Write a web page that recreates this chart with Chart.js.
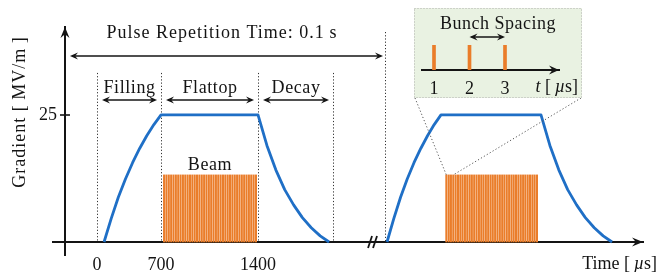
<!DOCTYPE html>
<html>
<head>
<meta charset="utf-8">
<script src="https://cdn.jsdelivr.net/npm/chart.js@4"></script>
<style>
  body { margin: 0; background: #fff; }
  #wrap { position: relative; width: 659px; height: 272px; }
  #main { position: absolute; left: 0; top: 0; }
  #inset { position: absolute; left: 414px; top: 8px; }
</style>
</head>
<body>
<div id="wrap">
  <canvas id="main" width="659" height="272"></canvas>
  <canvas id="inset" width="168" height="90"></canvas>
</div>
<script>
// time in µs, gradient in MV/m (the time axis is schematic, with a break)
const xTickValues = [0, 700, 1400];
const xTickLabels = ['0', '700', '1400'];
const yTickValues = [25];
const yTickLabels = ['25'];
const phaseBounds = [0, 700, 1400, 2100];
const phaseNames = ['Filling', 'Flattop', 'Decay'];
const repLineTime = 100055;
const yAxisTime = -364;
const breakTime = 2473;

const pulse1Time = [77, 155, 233, 311, 389, 466, 544, 622, 700, 1400, 1483, 1566, 1649, 1732, 1814, 1897, 1980, 2063];
const pulse1Gradient = [0, 4.6, 8.8, 12.4, 15.6, 18.4, 20.9, 23.1, 25, 25, 19.0, 14.2, 10.3, 7.3, 4.8, 2.8, 1.2, 0];
const pulse2Time = [100077, 100151, 100225, 100298, 100372, 100446, 100520, 100593, 100667, 101400, 101483, 101566, 101649, 101732, 101814, 101897, 101980, 102063];
const pulse2Gradient = [0, 4.6, 8.8, 12.4, 15.6, 18.4, 20.9, 23.1, 25, 25, 19.0, 14.2, 10.3, 7.3, 4.8, 2.8, 1.2, 0];

const beam1Time = [722, 739, 756, 773, 790, 807, 824, 841, 858, 875, 892, 909, 926, 943, 960, 977, 994, 1011, 1028, 1045,
  1062, 1079, 1096, 1113, 1130, 1147, 1164, 1181, 1198, 1215, 1232, 1249, 1266, 1283, 1300, 1317, 1334, 1351, 1368, 1385];
const beam2Time = [100717, 100734, 100750, 100767, 100784, 100801, 100818, 100834, 100851, 100868, 100885, 100901, 100918, 100935, 100952, 100969, 100985, 101002, 101019, 101036,
  101052, 101069, 101086, 101103, 101120, 101136, 101153, 101170, 101187, 101203, 101220, 101237, 101254, 101271, 101287, 101304, 101321, 101338, 101354, 101371];
const beamLevel = 13.2;

// inset: three bunches, 1 µs apart
const insetBunchTime = [1, 2, 3];
const insetTickValues = [1, 2, 3];

// piecewise time -> fraction of plot width, so the drawing stays schematic
const xKnots = [[-500, 0], [0, 0.0746], [700, 0.1831], [1400, 0.3475], [2100, 0.4746], [2473, 0.5424],
  [99920, 0.5424], [100000, 0.5542], [100700, 0.6627], [101400, 0.8271], [102100, 0.9542], [102352, 1]];

function timeToDecimal(v) {
  const k = xKnots;
  if (v <= k[0][0]) return k[0][1] + (v - k[0][0]) * (k[1][1] - k[0][1]) / (k[1][0] - k[0][0]);
  for (let i = 1; i < k.length; i++) {
    if (v <= k[i][0]) {
      const [t0, d0] = k[i - 1], [t1, d1] = k[i];
      return d0 + (v - t0) / (t1 - t0) * (d1 - d0);
    }
  }
  const n = k.length - 1;
  return k[n][1] + (v - k[n][0]) * (k[n][1] - k[n - 1][1]) / (k[n][0] - k[n - 1][0]);
}
function decimalToTime(d) {
  const k = xKnots;
  for (let i = 1; i < k.length; i++) {
    if (d <= k[i][1] && k[i][1] > k[i - 1][1]) {
      const [t0, d0] = k[i - 1], [t1, d1] = k[i];
      return t0 + (d - d0) / (d1 - d0) * (t1 - t0);
    }
  }
  return k[k.length - 1][0];
}

class SchematicScale extends Chart.LinearScale {
  getPixelForValue(value) {
    if (value === null || isNaN(value)) return NaN;
    return this.getPixelForDecimal(timeToDecimal(value));
  }
  getValueForPixel(pixel) {
    return decimalToTime(this.getDecimalForPixel(pixel));
  }
}
SchematicScale.id = 'schematic';
SchematicScale.defaults = Chart.LinearScale.defaults;
Chart.register(SchematicScale);

const FONT = "'Liberation Serif', 'Times New Roman', serif";
const BLUE = '#1f6fc6';
const ORANGE = '#ea7d2a';
const INK = '#141414';
Chart.defaults.font.family = FONT;
Chart.defaults.font.size = 18;
Chart.defaults.color = INK;

function line(ctx, x1, y1, x2, y2) {
  ctx.beginPath(); ctx.moveTo(x1, y1); ctx.lineTo(x2, y2); ctx.stroke();
}
function arrowHead(ctx, x, y, dx, dy, len, half) {
  const px = -dy, py = dx;
  ctx.beginPath();
  ctx.moveTo(x, y);
  ctx.lineTo(x - dx * len + px * half, y - dy * len + py * half);
  ctx.lineTo(x - dx * len * 0.65, y - dy * len * 0.65);
  ctx.lineTo(x - dx * len - px * half, y - dy * len - py * half);
  ctx.closePath();
  ctx.fill();
}
function doubleArrow(ctx, x1, x2, y) {
  line(ctx, x1 + 2, y, x2 - 2, y);
  arrowHead(ctx, x1, y, -1, 0, 8, 3.5);
  arrowHead(ctx, x2, y, 1, 0, 8, 3.5);
}
function richText(ctx, parts, x, y, align, size, spacing) {
  const fonts = parts.map(p => (p[1] ? 'italic ' : '') + size + 'px ' + FONT);
  ctx.letterSpacing = (spacing || 0) + 'px';
  let w = 0;
  const widths = parts.map((p, i) => { ctx.font = fonts[i]; const m = ctx.measureText(p[0]).width; w += m; return m; });
  let cx = align === 'center' ? x - w / 2 : align === 'right' ? x - w : x;
  ctx.textAlign = 'left';
  parts.forEach((p, i) => { ctx.font = fonts[i]; ctx.fillText(p[0], cx, y); cx += widths[i]; });
  ctx.letterSpacing = '0px';
}

const annotations = {
  id: 'annotations',
  beforeDatasetsDraw(chart) {
    const { ctx, chartArea: a, scales: { x, y } } = chart;
    const y0 = y.getPixelForValue(0);
    const yArrow = y.getPixelForValue(25) - 15;
    ctx.save();
    ctx.strokeStyle = '#333';
    ctx.lineWidth = 1;
    ctx.setLineDash([1.2, 2]);
    phaseBounds.forEach(t => {
      const px = Math.round(x.getPixelForValue(t)) + 0.5;
      line(ctx, px, yArrow - 27, px, y0);
    });
    const rx = Math.round(x.getPixelForValue(repLineTime)) + 0.5;
    line(ctx, rx, a.top + 5, rx, y0);
    ctx.restore();
  },
  afterDraw(chart) {
    const { ctx, chartArea: a, scales: { x, y } } = chart;
    const y0 = y.getPixelForValue(0);
    const ax = x.getPixelForValue(yAxisTime);
    const yArrow = y.getPixelForValue(25) - 15;
    ctx.save();
    ctx.fillStyle = INK;
    ctx.strokeStyle = INK;
    ctx.textBaseline = 'middle';

    // axis arrow heads
    arrowHead(ctx, ax, a.top, 0, -1, 11, 4.5);
    arrowHead(ctx, a.right, y0, 1, 0, 11, 4.5);

    // y tick across the axis, label to the left
    ctx.lineWidth = 1.6;
    yTickValues.forEach((v, i) => {
      const py = Math.round(y.getPixelForValue(v));
      line(ctx, ax - 5, py, ax + 5, py);
      richText(ctx, [[yTickLabels[i], false]], ax - 8, py, 'right', 18);
    });

    // axis break mark
    const bx = x.getPixelForValue(breakTime);
    ctx.lineWidth = 1.8;
    line(ctx, bx - 5, y0 + 6, bx - 1, y0 - 6);
    line(ctx, bx, y0 + 6, bx + 4, y0 - 6);

    // phases
    ctx.lineWidth = 1.6;
    for (let i = 0; i < phaseNames.length; i++) {
      const xa = x.getPixelForValue(phaseBounds[i]) + 5;
      const xb = x.getPixelForValue(phaseBounds[i + 1]) - 4;
      doubleArrow(ctx, xa, xb, yArrow);
      richText(ctx, [[phaseNames[i], false]], (xa + xb) / 2, yArrow - 12, 'center', 18, 0.6);
    }

    // pulse repetition time
    const rx = x.getPixelForValue(repLineTime);
    doubleArrow(ctx, ax + 5, rx - 2, a.top + 29);
    richText(ctx, [['Pulse Repetition Time: 0.1\u2009s', false]], (ax + rx) / 2 - 3, a.top + 6, 'center', 18, 1);

    // beam label
    const bx1 = x.getPixelForValue(beam1Time[0]);
    const bx2 = x.getPixelForValue(beam1Time[beam1Time.length - 1]);
    richText(ctx, [['Beam', false]], (bx1 + bx2) / 2, y.getPixelForValue(beamLevel) - 10, 'center', 18, 0.6);

    // axis titles
    ctx.save();
    ctx.translate(20, 112);
    ctx.rotate(-Math.PI / 2);
    richText(ctx, [['Gradient [\u2009MV/m\u2009]', false]], 0, 0, 'center', 18, 1);
    ctx.restore();
    richText(ctx, [['Time [\u2009', false], ['\u00b5', true], ['s]', false]], chart.width - 2, y0 + 22, 'right', 18);

    // connectors from the inset to the start of the second beam
    const inset = document.getElementById('inset');
    const il = inset.offsetLeft, it = inset.offsetTop + inset.height;
    const ir = il + inset.width;
    const ty = y.getPixelForValue(beamLevel);
    ctx.strokeStyle = '#555';
    ctx.lineWidth = 1;
    ctx.setLineDash([1.2, 2.2]);
    line(ctx, il + 1, it, x.getPixelForValue(beam2Time[0]), ty);
    line(ctx, ir - 1, it, x.getPixelForValue(beam2Time[3]), ty);
    ctx.restore();
  }
};

new Chart(document.getElementById('main'), {
  type: 'line',
  data: {
    datasets: [
      {
        label: 'Pulse 1',
        data: pulse1Time.map((t, i) => ({ x: t, y: pulse1Gradient[i] })),
        borderColor: BLUE, borderWidth: 2.8, pointRadius: 0, tension: 0, borderJoinStyle: 'round'
      },
      {
        label: 'Pulse 2',
        data: pulse2Time.map((t, i) => ({ x: t, y: pulse2Gradient[i] })),
        borderColor: BLUE, borderWidth: 2.8, pointRadius: 0, tension: 0, borderJoinStyle: 'round'
      },
      {
        type: 'bar',
        label: 'Beam',
        data: beam1Time.concat(beam2Time).map(t => ({ x: t, y: beamLevel })),
        backgroundColor: ORANGE, barThickness: 1.4, borderWidth: 0
      }
    ]
  },
  options: {
    responsive: false,
    animation: false,
    devicePixelRatio: 1,
    events: [],
    layout: { padding: { left: 53, right: 16, top: 27, bottom: 17 } },
    plugins: { legend: { display: false }, tooltip: { enabled: false } },
    scales: {
      x: {
        type: 'schematic',
        min: -500,
        max: 102352,
        position: { y: 0 },
        border: { display: true, color: INK, width: 2 },
        grid: { display: false, drawTicks: false },
        afterBuildTicks: s => { s.ticks = xTickValues.map(v => ({ value: v })); },
        ticks: { autoSkip: false, maxRotation: 0, padding: 12, callback: (v, i) => xTickLabels[i] }
      },
      y: {
        min: -2.56,
        max: 42.3,
        position: { x: yAxisTime },
        border: { display: true, color: INK, width: 2 },
        grid: { display: false, drawTicks: false },
        afterBuildTicks: s => { s.ticks = yTickValues.map(v => ({ value: v })); },
        ticks: { display: false }
      }
    }
  },
  plugins: [annotations]
});

const insetDecor = {
  id: 'insetDecor',
  beforeDraw(chart) {
    const { ctx, width, height } = chart;
    ctx.save();
    ctx.fillStyle = '#e9f2e2';
    ctx.fillRect(0, 0, width, height);
    ctx.strokeStyle = '#b0b0b0';
    ctx.lineWidth = 1;
    ctx.setLineDash([1, 2]);
    ctx.strokeRect(0.5, 0.5, width - 1, height - 1);
    ctx.restore();
  },
  afterDraw(chart) {
    const { ctx, chartArea: a, scales: { x, y } } = chart;
    const y0 = y.getPixelForValue(0);
    ctx.save();
    ctx.fillStyle = INK;
    ctx.strokeStyle = INK;
    arrowHead(ctx, a.right, y0, 1, 0, 10, 4.5);
    ctx.lineWidth = 1.6;
    doubleArrow(ctx, x.getPixelForValue(insetBunchTime[1]), x.getPixelForValue(insetBunchTime[2]), a.top - 8);
    ctx.textBaseline = 'middle';
    richText(ctx, [['Bunch Spacing', false]], chart.width / 2, 16, 'center', 18, 0.5);
    richText(ctx, [['t', true], [' [\u2009', false], ['\u00b5', true], ['s]', false]], chart.width - 4, y0 + 17, 'right', 18);
    ctx.restore();
  }
};

new Chart(document.getElementById('inset'), {
  type: 'bar',
  data: {
    datasets: [{
      label: 'Bunches',
      data: insetBunchTime.map(t => ({ x: t, y: 1 })),
      backgroundColor: ORANGE, barThickness: 3, borderWidth: 0
    }]
  },
  options: {
    responsive: false,
    animation: false,
    devicePixelRatio: 1,
    events: [],
    layout: { padding: { left: 8, right: 23, top: 37, bottom: 28 } },
    plugins: { legend: { display: false }, tooltip: { enabled: false } },
    scales: {
      x: {
        type: 'linear',
        min: 0.662,
        max: 4.521,
        offset: false,
        position: { y: 0 },
        border: { display: true, color: INK, width: 2 },
        grid: { display: false, drawTicks: false },
        afterBuildTicks: s => { s.ticks = insetTickValues.map(v => ({ value: v })); },
        ticks: { autoSkip: false, maxRotation: 0, padding: 8 }
      },
      y: { display: false, min: 0, max: 1 }
    }
  },
  plugins: [insetDecor]
});
</script>
</body>
</html>
